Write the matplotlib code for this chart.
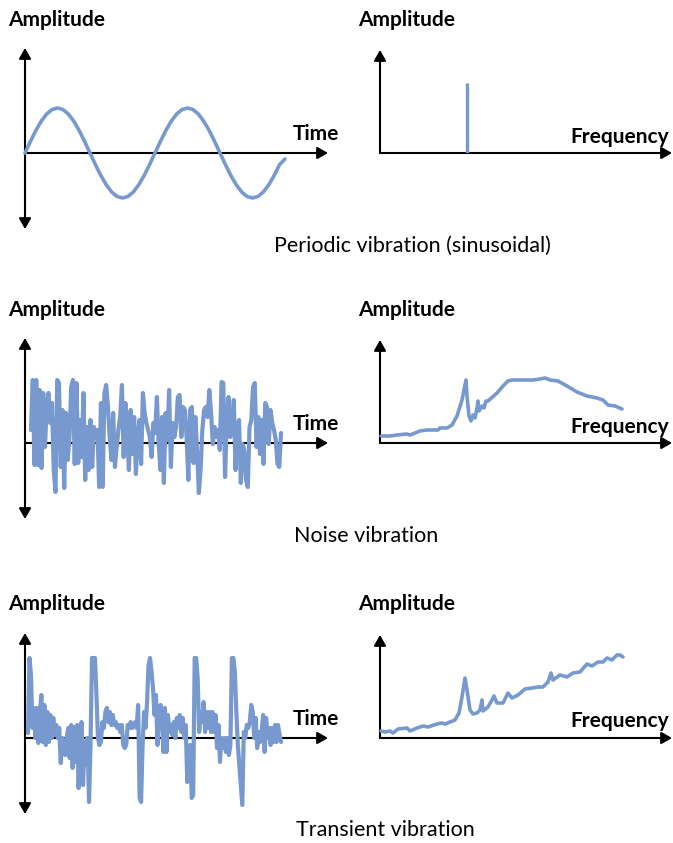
import numpy as np
import matplotlib
matplotlib.use("Agg")
from matplotlib import pyplot as plt

plt.rcParams["font.family"] = ["Lato", "DejaVu Sans"]

BLUE = "#7799d0"

# sinusoid, 24 samples per period (amplitude in px-like units)
sine_amp = [0, 11.6, 22.5, 31.8, 39, 43.5, 45, 43.5, 39, 31.8, 22.5, 11.6,
            0, -11.6, -22.5, -31.8, -39, -43.5, -45, -43.5, -39, -31.8, -22.5, -11.6,
            0, 11.6, 22.5, 31.8, 39, 43.5, 45, 43.5, 39, 31.8, 22.5, 11.6,
            0, -11.6, -22.5, -31.8, -39, -43.5, -45, -43.5, -39, -31.8, -22.5, -11.6, -6]
spike_freq = 87
spike_amp = 70

noise_amp = [13, 63, -22, 63, -22, 53, -25, 50, -4, 36, 50, 20, 40, -27, -49, 63, 60, -24,
             33, -45, 30, -17, 6, 56, 63, -21, 60, -20, 23, -14, 50, -37, 16, -27, 23, -24,
             16, 6, 13, -44, 40, -44, 50, 58, 36, 6, -17, 30, -24, -4, 13, 26, 58, -14, 40,
             13, -27, 33, -11, 26, -31, 6, 23, -21, 50, 30, 20, 13, 6, -14, 20, 10, 46, 1,
             -27, 26, -40, 30, 3, 53, -24, 20, 6, 16, 46, 48, 6, 36, 33, 6, -37, 33, 36, -20,
             26, -7, -50, -27, 13, 33, 36, 26, 53, 30, -1, 16, 6, 13, -7, 61, 60, -34, 23, 46,
             6, 16, 43, -27, 16, 23, -40, -1, -7, -37, -44, 16, 23, 56, 60, -4, 26, -11, 23,
             -21, 40, 36, -1, 33, 20, 13, 3, -21, -24, 10]
noise_spec_freq = [1, 10, 17, 27, 30, 40, 47, 58, 60, 67, 72, 77, 82, 84, 86, 87, 89, 91,
                   93, 95, 97, 98, 99, 102, 104, 106, 108, 117, 123, 128, 132, 143, 153,
                   160, 165, 170, 178, 187, 197, 207, 217, 223, 228, 235, 242]
noise_spec_amp = [7, 7, 8, 9, 8, 12, 13, 13, 15, 15, 18, 27, 43, 53, 63, 47, 27, 22,
                  28, 25, 35, 42, 32, 37, 35, 42, 42, 50, 57, 62, 63, 63, 63,
                  64, 65, 63, 62, 57, 51, 47, 45, 43, 38, 37, 34]

transient_amp = [5, 80, 63, 10, 30, 0, 30, -5, 26, 43, -4, 33, -7, 26, -4, 23, 0, 20, 3, 13,
                 0, 10, -25, 0, -7, -17, 0, 10, -20, 13, -30, 11, -24, 13, -50, -7, 16, -47,
                 -4, -27, 0, -64, -7, 80, 80, 80, 43, 0, -7, -4, 16, 10, 26, 30, 16, 26, 13,
                 23, 13, 16, 10, 13, 6, 13, -7, -10, -7, 13, 10, 16, 10, 13, 16, 10, 33, -60,
                 -64, -7, 26, 10, 36, 73, 80, 66, 50, 23, 43, -7, 23, 33, 20, -14,
                 30, -14, 23, 6, 13, 3, 16, 0, 20, 10, 23, 6, 20, 0, 13, -44, -10, -7, -60,
                 -57, 80, 80, 60, 6, 26, 16, 36, 6, 26, 10, 26, 6, 26, 6, 23, -10, 13, -24, 0,
                 -10, 0, -14, 0, -17, -7, 80, 80, 66, 26, -7, -27, -47, -67, 6, 0, 13, 10, 16,
                 33, 26, 0, 20, -10, 6, -4, 6, 23, -14, 20, 0, 10, -7, 10, -4, 13, -4, 13, 3, -4]
transient_spec_freq = [1, 5, 10, 13, 18, 27, 30, 37, 43, 48, 57, 62, 65, 70, 75, 79, 82, 85,
                       87, 90, 93, 97, 100, 102, 103, 108, 112, 114, 117, 123, 128, 132, 138,
                       145, 152, 158, 163, 168, 171, 173, 180, 187, 193, 200, 207, 212, 218,
                       223, 227, 232, 237, 240, 243]
transient_spec_amp = [7, 6, 7, 5, 9, 10, 7, 10, 12, 11, 14, 15, 14, 16, 18, 25, 41, 60,
                      48, 28, 24, 25, 28, 38, 27, 31, 38, 42, 35, 35, 45, 40, 43,
                      49, 50, 51, 51, 56, 65, 58, 63, 61, 65, 66, 74, 72, 76,
                      76, 80, 78, 83, 83, 81]

captions = ["Periodic vibration (sinusoidal)", "Noise vibration", "Transient vibration"]

W, H = 673, 843
fig = plt.figure(figsize=(W / 100, H / 100), dpi=100)


def px_axes(x0, y0, x1, y1):
    ax = fig.add_axes([x0 / W, 1 - y1 / H, (x1 - x0) / W, (y1 - y0) / H])
    ax.set_axis_off()
    return ax


def arrow(ax, start, end, style):
    ax.annotate("", xy=end, xytext=start, annotation_clip=False, zorder=3,
                arrowprops=dict(arrowstyle=style + ",head_length=0.35,head_width=0.2",
                                mutation_scale=18, lw=1.5, color="black",
                                shrinkA=0, shrinkB=0))


def time_panel(axis_y):
    ax = px_axes(25, axis_y - 105, 328, axis_y + 76)
    ax.set_xlim(0, 303)
    ax.set_ylim(-76, 105)
    arrow(ax, (0, -76), (0, 105), "<|-|>")
    arrow(ax, (0, 0), (303, 0), "-|>")
    return ax


def freq_panel(axis_y):
    ax = px_axes(380, axis_y - 103, 672, axis_y)
    ax.set_xlim(0, 292)
    ax.set_ylim(0, 103)
    arrow(ax, (0, 0), (0, 103), "-|>")
    arrow(ax, (0, 0), (292, 0), "-|>")
    return ax


line_kw = dict(color=BLUE, lw=2.6, solid_capstyle="round", solid_joinstyle="round",
               clip_on=False, zorder=4)
signal_kw = dict(line_kw, lw=3.0)

rows = [153, 443, 738]

# row 1: sinusoid
ax = time_panel(rows[0])
ax.plot(np.linspace(0, 260, len(sine_amp)), sine_amp, **line_kw)
ax = freq_panel(rows[0])
ax.vlines(spike_freq, 0, spike_amp, colors=BLUE, lw=2.4, zorder=4)

# row 2: noise
ax = time_panel(rows[1])
ax.plot(np.linspace(6, 256, len(noise_amp)), noise_amp, **signal_kw)
ax = freq_panel(rows[1])
ax.plot(noise_spec_freq, noise_spec_amp, **line_kw)

# row 3: transient
ax = time_panel(rows[2])
ax.plot(np.linspace(3, 256, len(transient_amp)), transient_amp, **signal_kw)
ax = freq_panel(rows[2])
ax.plot(transient_spec_freq, transient_spec_amp, **line_kw)

# labels, placed in figure pixels
bg = fig.add_axes([0, 0, 1, 1], zorder=-1)
bg.set_xlim(0, W)
bg.set_ylim(H, 0)
bg.set_axis_off()

amp_base = [26, 316, 610]
time_base = [140, 430, 725]
freq_base = [143, 433, 727]
cap_base = [252, 542, 836]
cap_x = [412, 366, 385]
for i in range(3):
    bg.text(8, amp_base[i], "Amplitude", fontsize=15, fontweight="bold", va="baseline")
    bg.text(358, amp_base[i], "Amplitude", fontsize=15, fontweight="bold", va="baseline")
    bg.text(293, time_base[i], "Time", fontsize=15, fontweight="bold", va="baseline")
    bg.text(669, freq_base[i], "Frequency", fontsize=15, fontweight="bold", va="baseline",
            ha="right")
    bg.text(cap_x[i], cap_base[i], captions[i], fontsize=15.5, va="baseline", ha="center")

fig.savefig("out.png", dpi=100)
